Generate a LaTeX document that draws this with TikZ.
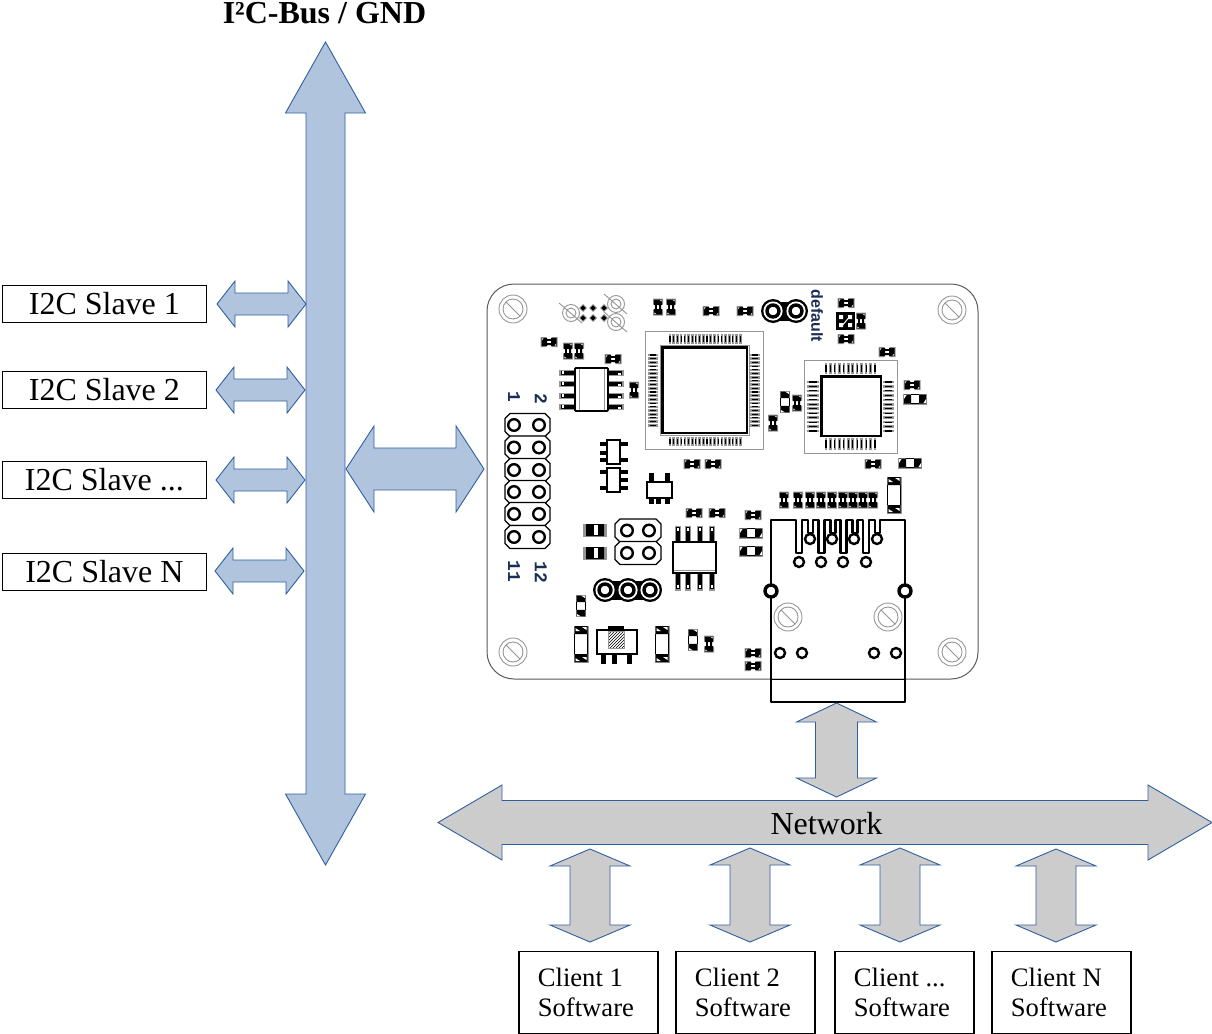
\documentclass[tikz,border=0pt]{standalone}
\usepackage{fontspec}
\setmainfont{Liberation Serif}
\newfontfamily\labelsans{Liberation Sans}
\newfontfamily\labelmono{Liberation Mono}
\usetikzlibrary{patterns}
\definecolor{busblue}{RGB}{176,196,222}
\definecolor{netgray}{RGB}{204,204,204}
\definecolor{edgeblue}{RGB}{47,95,160}
\definecolor{silk}{RGB}{150,150,150}
\definecolor{labelblue}{RGB}{25,45,85}
\tikzset{
  busarrow/.style={fill=busblue,draw=edgeblue,line width=0.9pt,line join=miter},
  netarrow/.style={fill=netgray,draw=edgeblue,line width=0.9pt,line join=miter},
  slavebox/.style={draw=black,line width=0.8pt,fill=white,minimum width=204pt,minimum height=37pt,inner sep=0pt,anchor=north west,font=\fontsize{32}{33}\selectfont},
  clientbox/.style={draw=black,line width=1.8pt,fill=white,anchor=north west,text width=101pt,inner xsep=19pt,inner ysep=0pt,minimum height=82pt,align=flush left,font=\fontsize{26.6}{29.5}\selectfont},
  silkline/.style={draw=silk,line width=0.9pt},
  cu/.style={draw=black,line width=2.4pt},
  cuthick/.style={draw=black,line width=3.4pt},
  pinlabel/.style={text=labelblue,font=\labelmono\bfseries\fontsize{18}{18}\selectfont,inner sep=0pt,rotate=-90},
  deflabel/.style={text=labelblue,font=\labelsans\bfseries\fontsize{16}{16}\selectfont,inner sep=0pt,rotate=-90},
  smd/.pic={
    \fill[silk] (-8.5,-5) rectangle (-2.5,5) (2.5,-5) rectangle (8.5,5);
    \fill[black] (-7.5,-4.2) rectangle (-2,4.2) (2,-4.2) rectangle (7.5,4.2);
    \fill[black] (-2.5,-3) rectangle (2.5,-1.2) (-2.5,1.2) rectangle (2.5,3);
    \fill[white] (-7,-3.7) -- (-5.4,-3.7) -- (-7,-1.7) -- cycle (7,3.7) -- (5.4,3.7) -- (7,1.7) -- cycle;
  },
  smdsolid/.pic={
    \fill[silk] (-12,-6.5) rectangle (12,6.5);
    \fill[black] (-9,-6) rectangle (-1,6) (3,-6) rectangle (9,6);
    \fill[black] (-1,-6) rectangle (3,-4.8) (-1,4.8) rectangle (3,6);
    \fill[white] (-1,-4.8) rectangle (3,4.8);
  },
  smdlong/.pic={
    \fill[silk] (-18.5,-7.5) rectangle (18.5,7.5);
    \fill[white] (-10,-6.5) rectangle (10,6.5);
    \fill[black] (-18,-6.5) rectangle (-10,6.5) (10,-6.5) rectangle (18,6.5);
    \draw[black,line width=1.6pt] (-10,-6.5) -- (10,-6.5) (-10,6.5) -- (10,6.5);
    \fill[white] (-17,-5.5) -- (-14,-5.5) -- (-17,-1) -- cycle (-13,5.5) -- (-16,5.5) -- (-13,1) -- cycle
                 (17,5.5) -- (14,5.5) -- (17,1) -- cycle (13,-5.5) -- (16,-5.5) -- (13,-1) -- cycle;
  },
  smdmid/.pic={
    \fill[silk] (-12,-5.5) rectangle (12,5.5);
    \fill[white] (-4,-4.5) rectangle (4,4.5);
    \fill[black] (-11,-4.5) rectangle (-4,4.5) (4,-4.5) rectangle (11,4.5);
    \draw[black,line width=1.4pt] (-4,-4.5) -- (4,-4.5) (-4,4.5) -- (4,4.5);
    \fill[white] (-11,-4) -- (-8.5,-4) -- (-11,0) -- cycle (11,4) -- (8.5,4) -- (11,0) -- cycle;
  },
  mounthole/.pic={
    \draw[silkline] (0,0) circle (14) (0,0) circle (10) (-7,-7) -- (7,7);
  },
  smallhole/.pic={
    \draw[silkline] (0,0) circle (8.5) (0,0) circle (5) (-12,-10) -- (11,10);
  }
}
% v-block: style, cx, top, bottom, head half, head length, shaft half
\newcommand{\vblock}[7]{\draw[#1] (#2,#3) -- ({#2+#5},{#3+#6}) -- ({#2+#7},{#3+#6}) -- ({#2+#7},{#4-#6}) -- ({#2+#5},{#4-#6}) -- (#2,#4) -- ({#2-#5},{#4-#6}) -- ({#2-#7},{#4-#6}) -- ({#2-#7},{#3+#6}) -- ({#2-#5},{#3+#6}) -- cycle;}
% h-block: style, cy, left, right, head half, head length, shaft half
\newcommand{\hblock}[7]{\draw[#1] (#3,#2) -- ({#3+#6},{#2-#5}) -- ({#3+#6},{#2-#7}) -- ({#4-#6},{#2-#7}) -- ({#4-#6},{#2-#5}) -- (#4,#2) -- ({#4-#6},{#2+#5}) -- ({#4-#6},{#2+#7}) -- ({#3+#6},{#2+#7}) -- ({#3+#6},{#2+#5}) -- cycle;}
% octagon header cell: x1,y1,x2,y2 and style
\newcommand{\octo}[5]{\draw[#5,fill=white] ({#1+5},#2) -- ({#3-5},#2) -- (#3,{#2+5}) -- (#3,{#4-5}) -- ({#3-5},#4) -- ({#1+5},#4) -- (#1,{#4-5}) -- (#1,{#2+5}) -- cycle;}
\begin{document}
\begin{tikzpicture}[x=1pt,y=-1pt]
\useasboundingbox (0,0) rectangle (1212,1033);
% ---- bus side
\vblock{busarrow}{325.5}{42}{865}{40}{71}{19.5}
\node[font=\bfseries\fontsize{32}{33}\selectfont,inner sep=0pt] (title) at (324.5,13.5) {I²C-Bus / GND};
\node[slavebox] (s1) at (2,285) {I2C Slave 1};
\node[slavebox] (s2) at (2,371) {I2C Slave 2};
\node[slavebox] (s3) at (2,461) {I2C Slave ...};
\node[slavebox] (s4) at (2,553) {I2C Slave N};
\hblock{busarrow}{304}{217}{306}{23}{18}{11}
\hblock{busarrow}{390}{216}{305}{23}{18}{11}
\hblock{busarrow}{480}{216}{305}{23}{18}{11}
\hblock{busarrow}{571}{215}{304}{23}{18}{11}
\hblock{busarrow}{469}{346}{484}{43}{28}{21}
% ---- board
\draw[draw=silk!60!black,line width=1pt,fill=white,rounded corners=27pt] (487,284) rectangle (978,679);
\foreach \p in {(513,309),(952,310),(513,652),(952,652),(788,617),(888,617)} \pic at \p {mounthole};
\foreach \p in {(571,313),(616,304),(616,322)} \pic at \p {smallhole};
\foreach \x/\y in {583/308,583/318,593/308,593/318,604/308,604/318} {
  \fill[silk] (\x,\y) ++(-4,0) -- ++(4,-4) -- ++(4,4) -- ++(-4,4) -- cycle;
  \fill[black] (\x,\y) ++(-2.6,0) -- ++(2.6,-2.6) -- ++(2.6,2.6) -- ++(-2.6,2.6) -- cycle;
}
% small parts
\foreach \x/\y in {711/311,745/311,549/342,613/359,692/464,713/464,846/303,846/339,887/352,912/385,873/464,694/513,717/513,753/515,753/653,753/666}
  \pic at (\x,\y) {smd};
\foreach \x/\y in {658/307,671/307,568/351,579/351,634/390,861/321,797/403,773/423,709/644,784/500,798/500,810/500,821/500,832/500,843/500,853/500,863/500,873/500}
  \pic[rotate=90] at (\x,\y) {smd};
\foreach \x/\y in {915/399,910/463,751/533,751/551} \pic at (\x,\y) {smdmid};
\foreach \x/\y in {785/402,581/606,693/640} \pic[rotate=90,scale=0.95] at (\x,\y) {smdmid};
\foreach \x/\y in {595/530,595/553} \pic at (\x,\y) {smdsolid};
\foreach \x/\y in {894/495,581/644,662/644} \pic[rotate=90] at (\x,\y) {smdlong};
% crystal
\fill[black] (836,312) rectangle (855,330);
\fill[white] (839,315) rectangle (843,319) (848,315) rectangle (852,319) (839,323) rectangle (843,327) (848,323) rectangle (852,327);
\draw[white,line width=1pt] (841,327) -- (851,315);
% big QFP
\draw[silkline,fill=white] (645,331) rectangle (763,449);
\foreach \i in {0,...,19} {
  \draw[silk,line width=2.6pt] ({670+\i*3.7},334) -- ({670+\i*3.7},344);
  \draw[black,line width=1.1pt] ({670+\i*3.7},336) -- ({670+\i*3.7},342);
  \draw[silk,line width=2.6pt] ({670+\i*3.7},437) -- ({670+\i*3.7},446);
  \draw[black,line width=1.1pt] ({670+\i*3.7},439) -- ({670+\i*3.7},444);
  \draw[silk,line width=2.6pt] (648,{355+\i*3.7}) -- (658,{355+\i*3.7});
  \draw[black,line width=1.1pt] (650,{355+\i*3.7}) -- (656,{355+\i*3.7});
  \draw[silk,line width=2.6pt] (750,{355+\i*3.7}) -- (760,{355+\i*3.7});
  \draw[black,line width=1.1pt] (752,{355+\i*3.7}) -- (758,{355+\i*3.7});
}
\draw[silk,line width=1pt] (660,345) rectangle (749,435);
\draw[black,line width=2.6pt,fill=white] (662.5,347.5) rectangle (747,433);
% small QFP
\draw[silkline,fill=white] (804,360) rectangle (897,453);
\foreach \i in {0,...,11} {
  \draw[silk,line width=2.6pt] ({826+\i*4.45},363) -- ({826+\i*4.45},374);
  \draw[black,line width=1.1pt] ({826+\i*4.45},365) -- ({826+\i*4.45},372);
  \draw[silk,line width=2.6pt] ({826+\i*4.45},438) -- ({826+\i*4.45},450);
  \draw[black,line width=1.1pt] ({826+\i*4.45},440) -- ({826+\i*4.45},448);
  \draw[silk,line width=2.6pt] (807,{382+\i*4.45}) -- (819,{382+\i*4.45});
  \draw[black,line width=1.1pt] (809,{382+\i*4.45}) -- (817,{382+\i*4.45});
  \draw[silk,line width=2.6pt] (883,{382+\i*4.45}) -- (894,{382+\i*4.45});
  \draw[black,line width=1.1pt] (885,{382+\i*4.45}) -- (892,{382+\i*4.45});
}
\draw[black,line width=2.6pt,fill=white] (821.5,376.5) rectangle (881,436);
% SOIC top
\foreach \y in {373,384,396,407} {
  \fill[silk] (559,\y) ++(0,-3.2) rectangle ++(17,6.4);
  \fill[silk] (607,\y) ++(0,-3.2) rectangle ++(17,6.4);
  \fill[black] (561,\y) ++(0,-2.4) rectangle ++(15,4.8);
  \fill[black] (607,\y) ++(0,-2.4) rectangle ++(15,4.8);
  \fill[white] (561,\y) ++(0.5,-2) rectangle ++(2.5,2.5);
  \fill[white] (618,\y) ++(0,-0.5) rectangle ++(3,2.5);
}
\draw[black,line width=1.8pt,fill=white,rounded corners=1pt] (575,368) rectangle (608,411);
\draw[silk,line width=0.8pt] (579,369) -- (579,410) (604,369) -- (604,410);
% SOT-23 pair
\foreach \y in {444,453,460,472,488} \fill[black] (600,\y) ++(0,-2.4) rectangle ++(8,4.8);
\foreach \y in {444,460,472,480,488} \fill[black] (619,\y) ++(0,-2.4) rectangle ++(9,4.8);
\draw[black,line width=1.8pt,fill=white] (607,440) rectangle (620,464);
\draw[black,line width=1.8pt,fill=white] (607,468) rectangle (620,492);
% SOT-223
\foreach \x in {651,667} \fill[black] (\x,473) ++(-2.5,0) rectangle ++(5,9);
\foreach \x in {651,658,667} \fill[black] (\x,497) ++(-2.5,0) rectangle ++(5,7);
\draw[black,line width=1.8pt,fill=white] (647,482) rectangle (672,498);
% SOIC lower
\foreach \x in {678,688,700,712} {
  \fill[silk] (\x,526) ++(-3,0) rectangle ++(6,16);
  \fill[silk] (\x,573) ++(-3,0) rectangle ++(6,17.5);
  \fill[black] (\x,527) ++(-2.2,0) rectangle ++(4.4,15);
  \fill[black] (\x,573) ++(-2.2,0) rectangle ++(4.4,16);
  \fill[white] (\x,585) ++(-1.2,0) rectangle ++(2.4,3);
  \fill[white] (\x,528) ++(-1.2,0) rectangle ++(2.4,3);
}
\draw[black,line width=1.8pt,fill=white] (673,542) rectangle (716,573);
\draw[silk,line width=0.8pt] (674,570) -- (715,570);
% switch
\draw[black,line width=1.4pt,fill=white] (597,630) rectangle (637,654);
\fill[black] (608,626) rectangle (624,631);
\draw[silk,pattern=north east lines,pattern color=black] (608,631) rectangle (624,648);
\foreach \x in {603,614,629} \fill[black] (\x,654) ++(-2.5,0) rectangle ++(5,10);
% headers
\foreach \y in {425,447.5,470,492,514,537} {
  \octo{505}{\y-11.5}{550}{\y+11.5}{draw=black,line width=1.2pt}
  \draw[cu] (514,\y) circle (5.8) (539,\y) circle (5.8);
}
\foreach \y in {530.5,553} {
  \octo{615}{\y-11.5}{661}{\y+11.5}{draw=black,line width=1.2pt}
  \draw[cu] (627,\y) circle (5.8) (649,\y) circle (5.8);
}
% thick jumpers
\fill[black] (773,301.5) rectangle (796,320.5);
\foreach \x in {773,796} \fill[black] (\x,311) circle (12);
\foreach \x in {773,796} \fill[white] (\x,311) circle (9.6);
\foreach \x in {773,796} \draw[cuthick] (\x,311) circle (6);
\fill[black] (605,580.5) rectangle (650,599.5);
\foreach \x in {605,628,650} \fill[black] (\x,590) circle (12);
\foreach \x in {605,628,650} \fill[white] (\x,590) circle (9.6);
\foreach \x in {605,628,650} \draw[cuthick] (\x,590) circle (6);
% RJ45
\draw[cu,line join=round] (771,520) -- (796,520) -- (796,553) -- (802,553) -- (802,520)
  -- (808,520) -- (808,533) -- (813,533) -- (813,520)
  -- (818.3,520) -- (818.3,553) -- (824.3,553) -- (824.3,520)
  -- (830.3,520) -- (830.3,533) -- (835.3,533) -- (835.3,520)
  -- (840.6,520) -- (840.6,553) -- (846.6,553) -- (846.6,520)
  -- (852.6,520) -- (852.6,533) -- (857.6,533) -- (857.6,520)
  -- (863,520) -- (863,553) -- (869,553) -- (869,520)
  -- (875,520) -- (875,533) -- (880,533) -- (880,520)
  -- (905,520) -- (905,702) -- (771,702) -- cycle;
\draw[black,line width=0.9pt] (771,679) -- (905,679);
\foreach \x in {810,832,854,877} \draw[cu,fill=white] (\x,539) circle (5);
\foreach \x in {799,821,843,866} \draw[cu,fill=white] (\x,562) circle (5);
\foreach \x in {780,802,874,896} \draw[cu,fill=white] (\x,653) circle (5);
\foreach \x in {771,905} \draw[cuthick,fill=white] (\x,591) circle (6);
% board labels
\node[pinlabel] (p1) at (514,397) {1};
\node[pinlabel] (p2) at (541,399) {2};
\node[pinlabel] (p11) at (514,571) {11};
\node[pinlabel] (p12) at (541,572) {12};
\node[deflabel] (def) at (817,316) {default};
% ---- network
\vblock{netarrow}{836.5}{703}{797}{40}{19}{21}
\hblock{netarrow}{822.5}{438}{1212}{37.5}{64}{22}
\node[font=\fontsize{32}{33}\selectfont,inner sep=0pt] (net) at (826.5,824) {Network};
\vblock{netarrow}{590}{849}{942}{40}{17}{20}
\vblock{netarrow}{750}{848}{942}{40}{17}{20}
\vblock{netarrow}{900}{848}{942}{40}{17}{20}
\vblock{netarrow}{1056}{849}{942}{40}{17}{20}
\node[clientbox] (c1) at (518,950.5) {Client 1\\Software};
\node[clientbox] (c2) at (675,950.5) {Client 2\\Software};
\node[clientbox] (c3) at (834,950.5) {Client ...\\Software};
\node[clientbox] (c4) at (991,950.5) {Client N\\Software};
\end{tikzpicture}
\end{document}
